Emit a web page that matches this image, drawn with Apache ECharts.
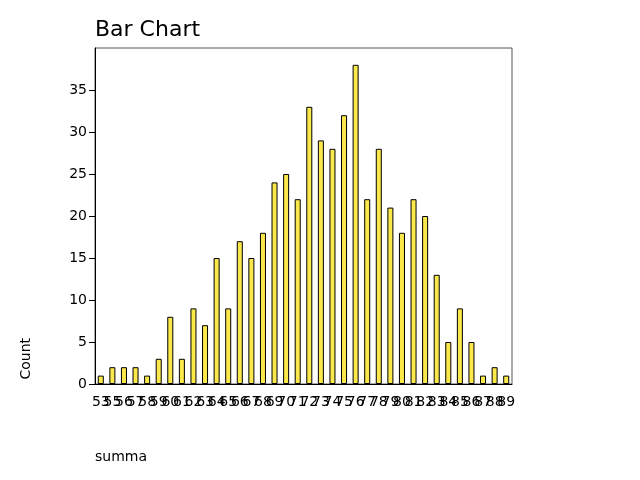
<!DOCTYPE html>
<html><head><meta charset="utf-8">
<script src="https://cdn.jsdelivr.net/npm/echarts@6/dist/echarts.min.js"></script>
<style>html,body{margin:0;padding:0;background:#fff}#c{width:640px;height:480px}</style>
</head><body><div id="c"></div>
<script>
const categories = ['53','55','56','57','58','59','60','61','62','63','64','65','66','67','68','69','70','71','72','73','74','75','76','77','78','79','80','81','82','83','84','85','86','87','88','89'];
const counts = [1,2,2,2,1,3,8,3,9,7,15,9,17,15,18,24,25,22,33,29,28,32,38,22,28,21,18,22,20,13,5,9,5,1,2,1];
const yTicks = [0,5,10,15,20,25,30,35];

const chart = echarts.init(document.getElementById('c'));
const font = 'DejaVu Sans';
chart.setOption({
  animation: false,
  title: { text: 'Bar Chart', left: 95, top: 19, padding: 0, textStyle: { fontFamily: font, fontSize: 22, fontWeight: 'normal', color: '#000' } },
  grid: { left: 95, right: 128, top: 48, bottom: 96, show: true, borderColor: '#555', borderWidth: 1, backgroundColor: 'transparent' },
  graphic: [{
    type: 'text', left: 19, top: 338, rotation: Math.PI / 2,
    style: { text: 'Count', fontFamily: font, fontSize: 14, fill: '#000' }
  }],
  xAxis: {
    type: 'category', data: categories,
    name: 'summa', nameLocation: 'start', nameGap: 0,
    nameTextStyle: { fontFamily: font, fontSize: 14, color: '#000', align: 'left', verticalAlign: 'top', padding: [66, 0, 0, 0] },
    axisLine: { lineStyle: { color: '#000' } },
    axisTick: { alignWithLabel: true, length: 6, lineStyle: { color: '#000' } },
    axisLabel: { interval: 0, fontFamily: font, fontSize: 14, color: '#000', margin: 11 }
  },
  yAxis: {
    type: 'value', min: 0, max: 40, interval: 5,
    axisLine: { show: true, lineStyle: { color: '#000' } },
    axisTick: { show: true, length: 6, lineStyle: { color: '#000' } },
    splitLine: { show: false },
    axisLabel: { showMaxLabel: false, fontFamily: font, fontSize: 14, color: '#000', margin: 8,
      formatter: v => yTicks.includes(v) ? String(v) : '' }
  },
  series: [{
    type: 'bar', data: counts, barWidth: '52%',
    itemStyle: { color: '#fbe84a', borderColor: '#000', borderWidth: 1 }
  }]
});
</script></body></html>
